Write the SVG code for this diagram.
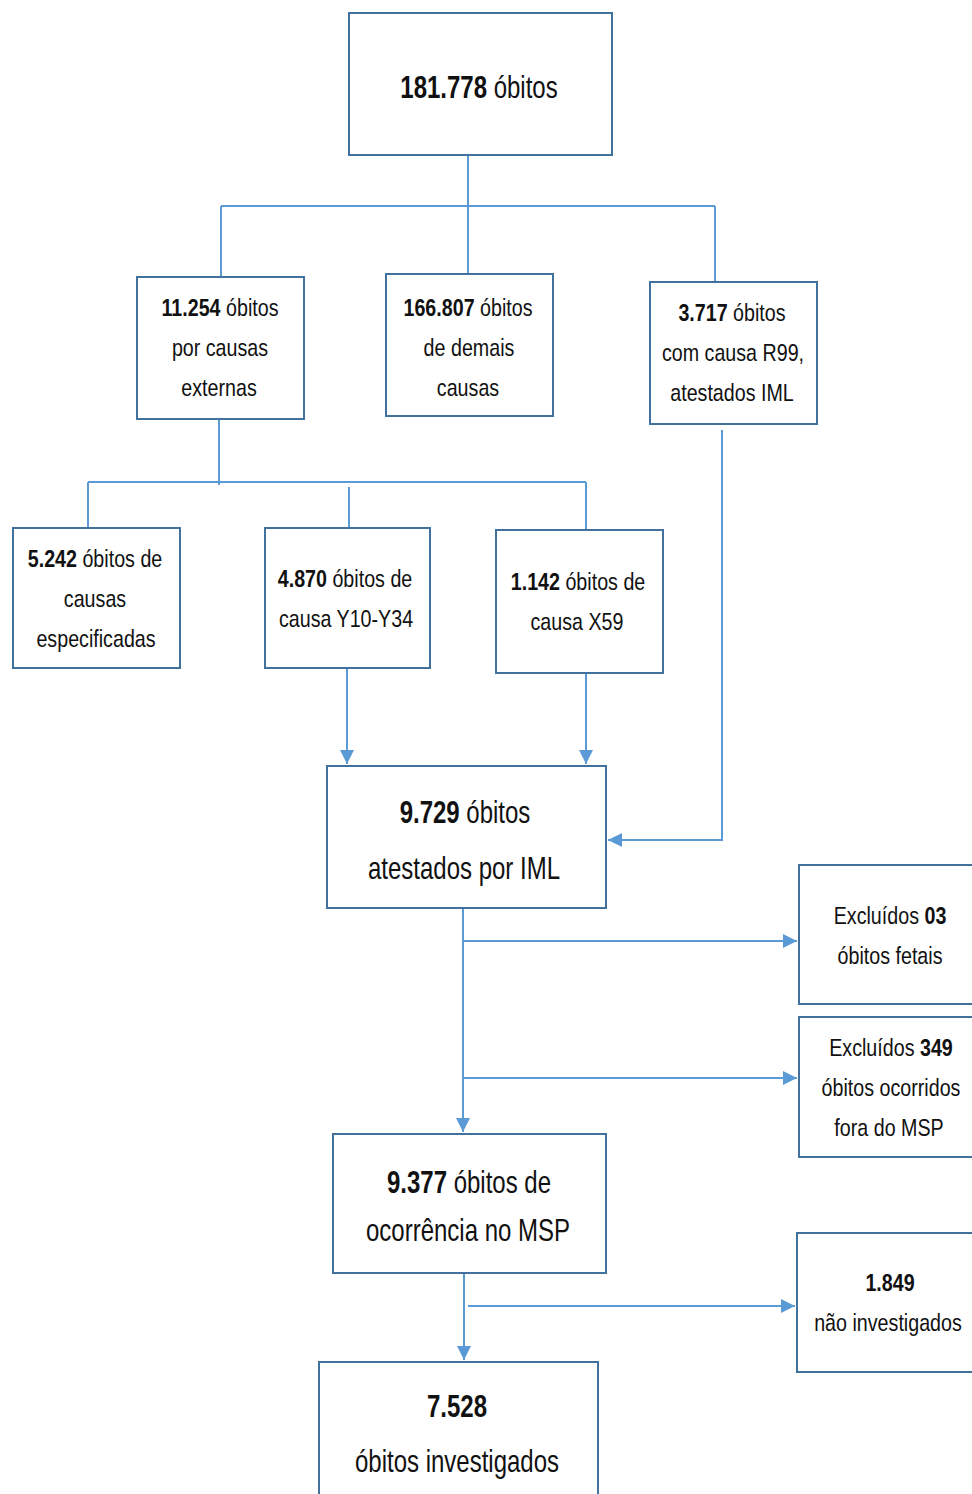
<svg xmlns="http://www.w3.org/2000/svg" width="972" height="1494" viewBox="0 0 972 1494">
<defs>
<style>
.box{fill:#fff;stroke:#41719C;stroke-width:2}
.ln{fill:none;stroke:#5B9BD5;stroke-width:2}
text{font-family:"Liberation Sans",Arial,sans-serif;fill:#111;text-anchor:middle}
.s{font-size:24px}
.l{font-size:32px}
.b{font-weight:bold}
</style>
<marker id="ah" viewBox="0 0 10 10" refX="10" refY="5" markerWidth="7" markerHeight="7" markerUnits="strokeWidth" orient="auto">
<path d="M0,0 L10,5 L0,10 z" fill="#5B9BD5"/>
</marker>
</defs>
<rect width="972" height="1494" fill="#fff"/>
<g id="connectors">
<path class="ln" d="M468,155 V274"/>
<path class="ln" d="M221,206 H715"/>
<path class="ln" d="M221,206 V277"/>
<path class="ln" d="M715,206 V282"/>
<path class="ln" d="M219,419 V485"/>
<path class="ln" d="M88,482 H586"/>
<path class="ln" d="M88,482 V528"/>
<path class="ln" d="M349,487 V528"/>
<path class="ln" d="M586,482 V530"/>
<path class="ln" d="M347,668 V764" marker-end="url(#ah)"/>
<path class="ln" d="M586,673 V764" marker-end="url(#ah)"/>
<path class="ln" d="M722,430 V840 H608" marker-end="url(#ah)"/>
<path class="ln" d="M463,908 V1132" marker-end="url(#ah)"/>
<path class="ln" d="M463,941 H797" marker-end="url(#ah)"/>
<path class="ln" d="M463,1078 H797" marker-end="url(#ah)"/>
<path class="ln" d="M464,1273 V1360" marker-end="url(#ah)"/>
<path class="ln" d="M468,1306 H795" marker-end="url(#ah)"/>
</g>
<g id="n1"><rect class="box" x="349" y="13" width="263" height="142"/>
<text class="l" transform="translate(479,98) scale(0.75,1)"><tspan class="b">181.778</tspan> óbitos</text></g>
<g id="n2"><rect class="box" x="137" y="277" width="167" height="142"/>
<text class="s" transform="translate(220,316) scale(0.82,1)"><tspan class="b">11.254</tspan> óbitos</text>
<text class="s" transform="translate(220,356) scale(0.82,1)">por causas</text>
<text class="s" transform="translate(219,396) scale(0.82,1)">externas</text></g>
<g id="n3"><rect class="box" x="386" y="274" width="167" height="142"/>
<text class="s" transform="translate(468,316) scale(0.82,1)"><tspan class="b">166.807</tspan> óbitos</text>
<text class="s" transform="translate(469,356) scale(0.82,1)">de demais</text>
<text class="s" transform="translate(468,396) scale(0.82,1)">causas</text></g>
<g id="n4"><rect class="box" x="650" y="282" width="167" height="142"/>
<text class="s" transform="translate(732,321) scale(0.82,1)"><tspan class="b">3.717</tspan> óbitos</text>
<text class="s" transform="translate(733,361) scale(0.82,1)">com causa R99,</text>
<text class="s" transform="translate(732,401) scale(0.82,1)">atestados IML</text></g>
<g id="n5"><rect class="box" x="13" y="528" width="167" height="140"/>
<text class="s" transform="translate(95,567) scale(0.82,1)"><tspan class="b">5.242</tspan> óbitos de</text>
<text class="s" transform="translate(95,607) scale(0.82,1)">causas</text>
<text class="s" transform="translate(96,647) scale(0.82,1)">especificadas</text></g>
<g id="n6"><rect class="box" x="265" y="528" width="165" height="140"/>
<text class="s" transform="translate(345,587) scale(0.82,1)"><tspan class="b">4.870</tspan> óbitos de</text>
<text class="s" transform="translate(346,627) scale(0.82,1)">causa Y10-Y34</text></g>
<g id="n7"><rect class="box" x="496" y="530" width="167" height="143"/>
<text class="s" transform="translate(578,590) scale(0.82,1)"><tspan class="b">1.142</tspan> óbitos de</text>
<text class="s" transform="translate(577,630) scale(0.82,1)">causa X59</text></g>
<g id="n8"><rect class="box" x="327" y="766" width="279" height="142"/>
<text class="l" transform="translate(465,823) scale(0.75,1)"><tspan class="b">9.729</tspan> óbitos</text>
<text class="l" transform="translate(464,879) scale(0.75,1)">atestados por IML</text></g>
<g id="n9"><rect class="box" x="799" y="865" width="185" height="139"/>
<text class="s" transform="translate(890,924) scale(0.82,1)">Excluídos <tspan class="b">03</tspan></text>
<text class="s" transform="translate(890,964) scale(0.82,1)">óbitos fetais</text></g>
<g id="n10"><rect class="box" x="799" y="1017" width="185" height="140"/>
<text class="s" transform="translate(891,1056) scale(0.82,1)">Excluídos <tspan class="b">349</tspan></text>
<text class="s" transform="translate(891,1096) scale(0.82,1)">óbitos ocorridos</text>
<text class="s" transform="translate(889,1136) scale(0.82,1)">fora do MSP</text></g>
<g id="n11"><rect class="box" x="333" y="1134" width="273" height="139"/>
<text class="l" transform="translate(469,1193) scale(0.75,1)"><tspan class="b">9.377</tspan> óbitos de</text>
<text class="l" transform="translate(468,1241) scale(0.75,1)">ocorrência no MSP</text></g>
<g id="n12"><rect class="box" x="797" y="1233" width="187" height="139"/>
<text class="s b" transform="translate(890,1291) scale(0.82,1)">1.849</text>
<text class="s" transform="translate(888,1331) scale(0.82,1)">não investigados</text></g>
<g id="n13"><rect class="box" x="319" y="1362" width="279" height="150"/>
<text class="l b" transform="translate(457,1417) scale(0.75,1)">7.528</text>
<text class="l" transform="translate(457,1472) scale(0.75,1)">óbitos investigados</text></g>
</svg>
